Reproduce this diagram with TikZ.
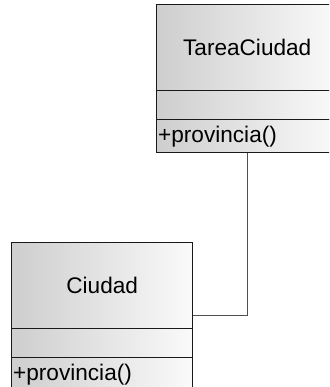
\documentclass[tikz,border=0pt]{standalone}
\usepackage{fontspec}
\setmainfont{Liberation Sans}
\definecolor{gradL}{RGB}{206,206,206}
\definecolor{gradR}{RGB}{250,250,250}
\definecolor{edge}{RGB}{25,25,25}
\definecolor{wire}{RGB}{80,80,80}
\begin{document}
\begin{tikzpicture}[x=1pt,y=-1pt,
  comp/.style={draw=edge, line width=1.4pt, left color=gradL, right color=gradR,
    minimum width=181pt, inner sep=0pt, anchor=north west, font=\fontsize{22.6}{25}\selectfont},
  namecomp/.style={comp, minimum height=86pt},
  attrcomp/.style={comp, minimum height=29pt},
  opscomp/.style={comp, minimum height=33pt, text width=178pt, align=left, inner xsep=1.5pt},
  wireline/.style={draw=wire, line width=0.9pt}]
\useasboundingbox (0,0) rectangle (329,387);
\clip (0,0) rectangle (329,387);
% TareaCiudad
\node[namecomp] (tcName) at (156,4) {TareaCiudad};
\node[attrcomp] (tcAttr) at (156,90) {};
\node[opscomp] (tcOps) at (156,119) {+provincia()};
% Ciudad
\node[namecomp] (cName) at (11,242) {Ciudad};
\node[attrcomp] (cAttr) at (11,328) {};
\node[opscomp] (cOps) at (11,357) {+provincia()};
% connector
\coordinate (bend) at (tcOps.south |- 0,315);
\draw[wireline] (tcOps.south) -- (bend) -- (bend -| cName.east);
\end{tikzpicture}
\end{document}
